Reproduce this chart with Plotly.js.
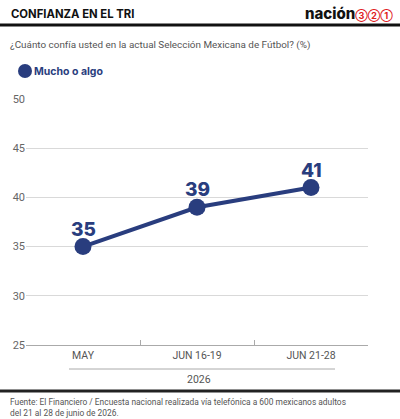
<!DOCTYPE html>
<html><head><meta charset="utf-8">
<script src="https://cdn.plot.ly/plotly-3.0.1.min.js"></script>
<style>html,body{margin:0;padding:0;background:#fff}#c{width:400px;height:419px}</style>
</head><body><div id="c"></div>
<script>
const categories = ["MAY", "JUN 16-19", "JUN 21-28"];
const values = [35, 39, 41];
const seriesName = "Mucho o algo";
const yTicks = [25, 30, 35, 40, 45, 50];
const yearLabel = "2026";

const W = 400, H = 419;
const L = 26, R = 32, T = 99, B = 74;
const pw = W - L - R, ph = H - T - B;
const px = x => (x - L) / pw;
const py = y => (H - B - y) / ph;
const blue = "#293d7e";

const trace = {
  x: categories, y: values, name: seriesName, showlegend: false,
  type: "scatter", mode: "lines+markers",
  line: {color: blue, width: 4},
  marker: {color: blue, size: 17},
  cliponaxis: false
};

const valueLabels = categories.map((c, i) => ({
  text: String(values[i]), xref: "x", yref: "y", x: c, y: values[i],
  xanchor: "center", yanchor: "bottom", yshift: 4, showarrow: false,
  font: {family: "Inter", size: 19, weight: 800, color: blue}
}));

const layout = {
  width: W, height: H,
  margin: {l: L, r: R, t: T, b: B, autoexpand: false},
  paper_bgcolor: "#fff", plot_bgcolor: "#fff",
  font: {family: "Roboto", color: "#555"},
  showlegend: false,
  xaxis: {type: "category", range: [-0.5, 2.5], showgrid: false,
    showline: true, linecolor: "#aaa", linewidth: 1,
    ticks: "inside", tickson: "boundaries", ticklen: 5, tickcolor: "#aaa",
    tickfont: {size: 10.5, color: "#555"}, fixedrange: true},
  yaxis: {range: [25, 50], tickvals: yTicks, showgrid: true, gridcolor: "#d9d9d9",
    zeroline: false, showline: false, ticks: "", ticklen: 0,
    tickfont: {size: 11, color: "#666"}, fixedrange: true},
  shapes: [
    {type: "line", xref: "paper", yref: "paper", x0: px(0), x1: px(400), y0: py(25), y1: py(25),
     line: {color: "#111", width: 3}},
    {type: "circle", xref: "paper", yref: "paper", x0: px(18), x1: px(32), y0: py(64), y1: py(78),
     fillcolor: blue, line: {width: 0}},
    {type: "line", xref: "paper", yref: "paper", x0: px(69), x1: px(335), y0: py(369), y1: py(369),
     line: {color: "#aaa", width: 1}},
    {type: "line", xref: "paper", yref: "paper", x0: px(0), x1: px(400), y0: py(391), y1: py(391),
     line: {color: "#222", width: 3}}
  ],
  annotations: valueLabels.concat([
    {text: "<b>CONFIANZA EN EL TRI</b>", xref: "paper", yref: "paper", x: px(9), y: py(14),
     xanchor: "left", yanchor: "middle", showarrow: false,
     font: {family: "Inter", size: 11.3, weight: 800, color: "#111"}},
    {text: "nación<span style=\"color:#e0201b;font-size:9px;font-weight:700\">③②①</span>", xref: "paper", yref: "paper",
     x: px(395), y: py(13), xanchor: "right", yanchor: "middle", showarrow: false,
     font: {family: "Inter", size: 15, weight: 800, color: "#111"}},
    {text: "¿Cuánto confía usted en la actual Selección Mexicana de Fútbol? (%)", xref: "paper", yref: "paper",
     x: px(8), y: py(45), xanchor: "left", yanchor: "middle", showarrow: false,
     font: {family: "Roboto", size: 9.9, color: "#555"}},
    {text: seriesName, xref: "paper", yref: "paper", x: px(32), y: py(71),
     xanchor: "left", yanchor: "middle", showarrow: false,
     font: {family: "Inter", size: 10.5, weight: 700, color: blue}},
    {text: yearLabel, xref: "paper", yref: "paper", x: px(199), y: py(379), xanchor: "center", yanchor: "middle",
     showarrow: false, font: {family: "Roboto", size: 10.5, color: "#555"}},
    {text: "Fuente: El Financiero / Encuesta nacional realizada vía telefónica a 600 mexicanos adultos<br>del 21 al 28 de junio de 2026.",
     xref: "paper", yref: "paper", x: px(8), y: py(395), xanchor: "left", yanchor: "top", align: "left",
     showarrow: false, font: {family: "Roboto", size: 8.4, color: "#555"}}
  ])
};

Plotly.newPlot("c", [trace], layout, {displayModeBar: false, staticPlot: true});
</script>
</body></html>
